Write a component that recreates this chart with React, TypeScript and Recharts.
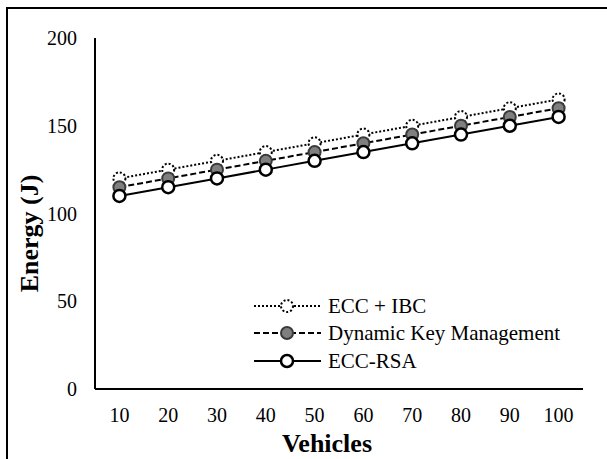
import React from 'react'
import { Line, LineChart, XAxis, YAxis } from 'recharts'

const vehicles = [10, 20, 30, 40, 50, 60, 70, 80, 90, 100]
const eccIbc = [120, 125, 130, 135, 140, 145, 150, 155, 160, 165]
const dynamicKey = [115, 120, 125, 130, 135, 140, 145, 150, 155, 160]
const eccRsa = [110, 115, 120, 125, 130, 135, 140, 145, 150, 155]
const yTicks = [0, 50, 100, 150, 200]

const data = vehicles.map((v, i) => ({
  vehicles: v,
  eccIbc: eccIbc[i],
  dynamicKey: dynamicKey[i],
  eccRsa: eccRsa[i],
}))

const FONT = '"Liberation Serif", "Times New Roman", serif'

const series = [
  {
    key: 'eccIbc',
    name: 'ECC + IBC',
    dash: '2 2',
    dot: { r: 6, fill: '#fff', stroke: '#000', strokeWidth: 2, strokeDasharray: '2 2' },
  },
  {
    key: 'dynamicKey',
    name: 'Dynamic Key Management',
    dash: '6 3',
    dot: { r: 6, fill: '#7f7f7f', stroke: '#3a3a3a', strokeWidth: 2, strokeDasharray: 'none' },
  },
  {
    key: 'eccRsa',
    name: 'ECC-RSA',
    dash: undefined,
    dot: { r: 6, fill: '#fff', stroke: '#000', strokeWidth: 2.5, strokeDasharray: 'none' },
  },
]

function LegendBox() {
  return (
    <div style={{ fontFamily: FONT, fontSize: 21, color: '#000' }}>
      {series.map((s) => (
        <div key={s.key} style={{ display: 'flex', alignItems: 'center', height: 27.5 }}>
          <svg width={70} height={20} style={{ marginRight: 6 }}>
            <line x1={2} y1={10} x2={69} y2={10} stroke="#000" strokeWidth={2} strokeDasharray={s.dash} />
            <circle cx={35} cy={10} r={s.dot.r} fill={s.dot.fill} stroke={s.dot.stroke} strokeWidth={s.dot.strokeWidth} strokeDasharray={s.dot.strokeDasharray} />
          </svg>
          <span style={{ lineHeight: '20px' }}>{s.name}</span>
        </div>
      ))}
    </div>
  )
}

function YTitle(props: any) {
  const vb = props.viewBox || {}
  const cx = vb.x + 29
  const cy = vb.y + vb.height / 2 + 20
  return (
    <text
      x={cx}
      y={cy}
      transform={`rotate(-90 ${cx} ${cy})`}
      textAnchor="middle"
      dominantBaseline="central"
      fontFamily={FONT}
      fontSize={26}
      fontWeight="bold"
      fill="#000"
    >
      Energy (J)
    </text>
  )
}

export default function App() {
  return (
    <div style={{ position: 'absolute', left: 0, top: 0, width: 607, height: 459, overflow: 'hidden', background: '#fff' }}>
      <div
        style={{
          position: 'absolute',
          left: 6,
          top: 7,
          width: 640,
          height: 500,
          borderTop: '2px solid #000',
          borderLeft: '2px solid #000',
        }}
      />
      <div style={{ position: 'absolute', left: 0, top: 0 }}>
        <LineChart width={607} height={459} data={data} margin={{ top: 38, right: 24, left: 0, bottom: 0 }}>
          <XAxis
            dataKey="vehicles"
            height={70}
            padding={{ left: 24.4, right: 24.4 }}
            axisLine={{ stroke: '#000', strokeWidth: 2 }}
            tickLine={false}
            tickSize={0}
            tickMargin={19}
            tick={{ fontFamily: FONT, fontSize: 20, fill: '#000' }}
            label={{
              value: 'Vehicles',
              position: 'insideBottom',
              offset: 7,
              dx: -12,
              style: { fontFamily: FONT, fontSize: 26, fontWeight: 'bold', fill: '#000' },
            }}
          />
          <YAxis
            width={95}
            domain={[0, 200]}
            ticks={yTicks}
            axisLine={{ stroke: '#000', strokeWidth: 2 }}
            tickLine={false}
            tickSize={0}
            tickMargin={18}
            tick={{ fontFamily: FONT, fontSize: 20, fill: '#000' }}
            label={<YTitle />}
          />
          {series.map((s) => (
            <Line
              key={s.key}
              dataKey={s.key}
              name={s.name}
              stroke="#000"
              strokeWidth={2}
              strokeDasharray={s.dash}
              dot={s.dot}
              activeDot={false}
              isAnimationActive={false}
            />
          ))}
        </LineChart>
      </div>
      <div style={{ position: 'absolute', left: 252, top: 292 }}>
        <LegendBox />
      </div>
    </div>
  )
}
